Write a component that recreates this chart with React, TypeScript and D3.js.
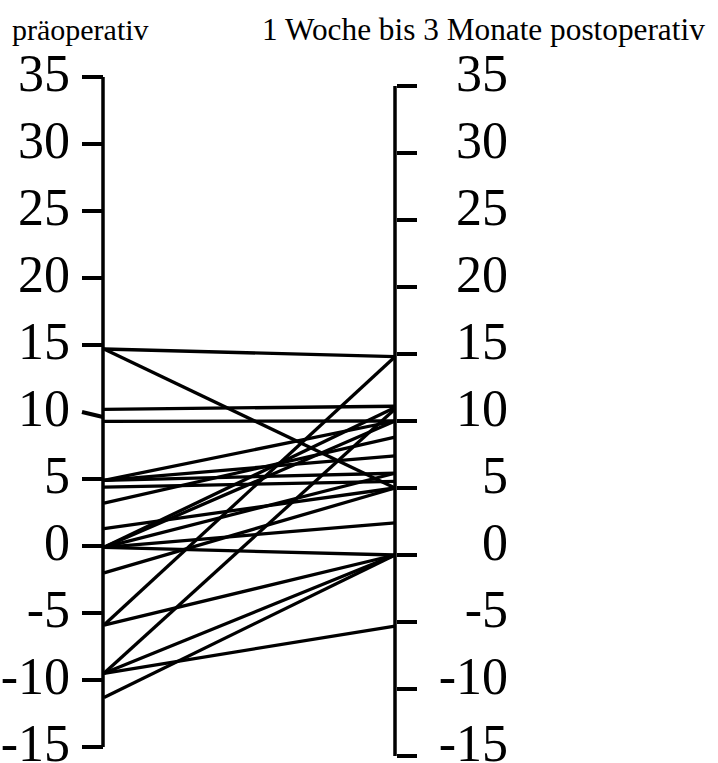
import * as d3 from "d3";

const ticks = [35, 30, 25, 20, 15, 10, 5, 0, -5, -10, -15];
const headerPre = "präoperativ";
const headerPost = "1 Woche bis 3 Monate postoperativ";

// Werte je Patient: präoperativ -> postoperativ
const preValues = [14.7, 14.7, 10.2, 9.3, 4.9, 4.9, 4.9, 4.4, 3.2, 1.3, -0.1, -0.1, -0.1, -0.1, -0.1, -2.0, -5.9, -5.9, -9.5, -9.5, -9.5, -11.3];
const postValues = [14.8, 5.0, 11.1, 10.0, 10.0, 7.4, 6.1, 5.5, 8.8, 5.0, 11.0, 10.0, 6.1, 2.4, 0.0, 5.0, 14.8, 0.0, 10.9, 0.0, -5.3, 0.0];

export default function App() {
  const width = 718;
  const height = 763;
  const leftX = 103;
  const rightX = 395;
  const yLeft = d3.scaleLinear().domain([-15, 35]).range([747, 77]);
  const yRight = d3.scaleLinear().domain([-15, 35]).range([756, 86]);
  const font = "'Liberation Serif', 'Times New Roman', serif";

  return (
    <svg
      width={width}
      height={height}
      style={{ position: "absolute", left: 0, top: 0, background: "#fff" }}
      fontFamily={font}
    >
      <text x={12} y={40} fontSize={30}>{headerPre}</text>
      <text x={262} y={40} fontSize={31.3}>{headerPost}</text>

      {/* left axis */}
      <line x1={leftX} x2={leftX} y1={yLeft(35)} y2={yLeft(-15)} stroke="#000" strokeWidth={3.5} />
      {ticks.map((t) => (
        <g key={`l${t}`}>
          <line
            x1={leftX - 21}
            x2={leftX}
            y1={yLeft(t)}
            y2={yLeft(t) + (t === 10 ? 5 : 0)}
            stroke="#000"
            strokeWidth={4}
          />
          <text x={70} y={yLeft(t) + 14} fontSize={52} textAnchor="end">{t}</text>
        </g>
      ))}

      {/* right axis */}
      <line x1={rightX} x2={rightX} y1={yRight(35)} y2={yRight(-15)} stroke="#000" strokeWidth={3.5} />
      {ticks.map((t) => (
        <g key={`r${t}`}>
          <line x1={rightX + 2} x2={rightX + 22} y1={yRight(t)} y2={yRight(t)} stroke="#000" strokeWidth={4} />
          <text x={508} y={yLeft(t) + 14} fontSize={52} textAnchor="end">{t}</text>
        </g>
      ))}

      {/* verbindungslinien */}
      {preValues.map((v, i) => (
        <line
          key={i}
          x1={leftX + 1}
          x2={rightX}
          y1={yLeft(v)}
          y2={yRight(postValues[i])}
          stroke="#000"
          strokeWidth={3.3}
        />
      ))}
    </svg>
  );
}
